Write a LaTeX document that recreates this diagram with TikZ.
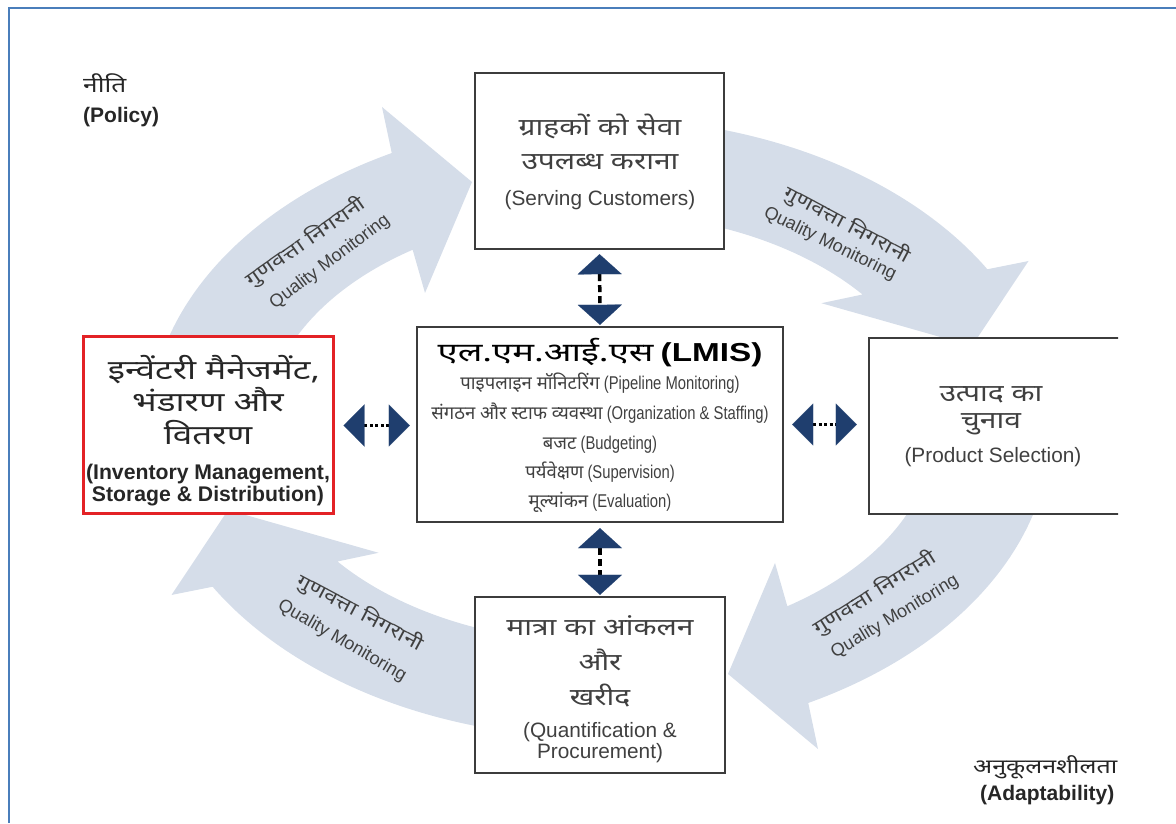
\documentclass[tikz,border=0pt]{standalone}
\usepackage{fontspec}
\setmainfont{Liberation Sans}
\newfontfamily\hifont[Script=Devanagari]{Noto Sans}
\newfontfamily\hiwide[Script=Devanagari,FakeStretch=1.25]{Noto Sans}
\newfontfamily\hiwider[Script=Devanagari,FakeStretch=1.3]{Noto Sans}
\newfontfamily\hititle[Script=Devanagari,FakeStretch=1.4]{Noto Sans}
\newfontfamily\lattitle[FakeStretch=1.28]{Liberation Sans}
\newfontfamily\lacond[FakeStretch=0.8]{Liberation Sans}
\usetikzlibrary{calc,arrows.meta}
\definecolor{flowblue}{HTML}{D5DDE9}
\definecolor{navy}{HTML}{1F3E6E}
\definecolor{boxgray}{HTML}{3C3C3C}
\definecolor{txt}{HTML}{404040}
\definecolor{dark}{HTML}{262626}
\definecolor{frameblue}{HTML}{4A7EBB}
\definecolor{redbox}{HTML}{E32226}
\begin{document}
\begin{tikzpicture}[x=1pt,y=1pt,
  box/.style={draw=boxgray, line width=2.4pt, fill=white, inner sep=0pt},
  hib/.style={font=\hiwide\fontsize{24}{28}\selectfont, text=txt, inner sep=0pt, anchor=base},
  enb/.style={font=\fontsize{20.8}{24}\selectfont, text=txt, inner sep=0pt, anchor=base},
  hil/.style={font=\hiwider\fontsize{27}{30}\selectfont, text=dark, inner sep=0pt, anchor=base},
  enl/.style={font=\fontsize{21.2}{24}\selectfont\bfseries, text=dark, inner sep=0pt, anchor=base},
  cen/.style={font=\fontsize{18.5}{22}\selectfont\lacond, text=txt, inner sep=0pt, anchor=base},
  qh/.style={font=\hiwide\fontsize{19}{22}\selectfont, text=txt, inner sep=0pt},
  qe/.style={font=\fontsize{18}{21}\selectfont, text=txt, inner sep=0pt},
  corner/.style={inner sep=0pt, anchor=base west, text=dark},
  hconn/.style={draw=black, line width=3pt, dash pattern=on 3pt off 2.5pt,
     >={Triangle[width=42pt,length=21pt,color=navy,line width=0.1pt]}, <->},
  vconn/.style={draw=black, line width=3.5pt, dash pattern=on 7pt off 4pt,
     >={Triangle[width=44pt,length=20pt,color=navy,line width=0.1pt]}, <->},
  flow/.style={fill=flowblue}
]
\useasboundingbox (0,0) rectangle (1176,823);
\begin{scope}
\clip (0,0) rectangle (1118,823);
% curved flow arrows
\fill[flow] (155.85,448.83) arc[start angle=170, end angle=117.5, x radius=451pt, y radius=310pt]
  -- (382,716) -- (472,641) -- (425,530) -- (412.67,573.24)
  arc[start angle=124, end angle=160, x radius=335pt, y radius=215pt] -- cycle;
\fill[flow] (1044.15,341.17) arc[start angle=350, end angle=297.5, x radius=451pt, y radius=310pt]
  -- (818,74) -- (728,149) -- (775,260) -- (787.33,216.76)
  arc[start angle=304, end angle=340, x radius=335pt, y radius=215pt] -- cycle;
\fill[flow] (716.73,694.44) arc[start angle=75, end angle=30.8, x radius=451pt, y radius=310pt]
  -- (1028.5,562) -- (972,477) -- (821.4,519.8) -- (862.5,528.5)
  arc[start angle=38.4, end angle=72, x radius=335pt, y radius=215pt] -- cycle;
\fill[flow] (483.27,95.56) arc[start angle=255, end angle=210.8, x radius=451pt, y radius=310pt]
  -- (171.5,228) -- (228,313) -- (378.6,270.2) -- (337.5,261.5)
  arc[start angle=218.4, end angle=252, x radius=335pt, y radius=215pt] -- cycle;
% labels on flow arrows
\node[qh, rotate=35] (q1h) at (306,581) {गुणवत्ता निगरानी};
\node[qe, rotate=37] (q1e) at (330,561) {Quality Monitoring};
\node[qh, rotate=-28] (q2h) at (847,598) {गुणवत्ता निगरानी};
\node[qe, rotate=-26] (q2e) at (830,579) {Quality Monitoring};
\node[qh, rotate=32] (q3h) at (875,230) {गुणवत्ता निगरानी};
\node[qe, rotate=31] (q3e) at (895,206) {Quality Monitoring};
\node[qh, rotate=-28] (q4h) at (360,210) {गुणवत्ता निगरानी};
\node[qe, rotate=-30] (q4e) at (342,182) {Quality Monitoring};
% boxes
\node[box, minimum width=249pt, minimum height=176pt] (srv) at (599.5,662) {};
\node[box, minimum width=366pt, minimum height=195pt] (lmis) at (600,398.5) {};
\node[box, draw=redbox, line width=3pt, minimum width=250pt, minimum height=177pt] (inv) at (208,397.5) {};
\node[box, minimum width=252pt, minimum height=176pt] (prod) at (995,397) {};
\node[box, minimum width=250pt, minimum height=176pt] (qp) at (600,138) {};
% box texts
\node[hib] (srv1) at (600,687) {ग्राहकों को सेवा};
\node[hib] (srv2) at (600,653) {उपलब्ध कराना};
\node[enb] (srv3) at (600,617) {(Serving Customers)};
\node[font=\fontsize{26}{30}\selectfont\bfseries, anchor=base, inner sep=0pt, text=black] (lmis1) at (600,461) {{\hititle एल.एम.आई.एस} {\lattitle (LMIS)}};
\node[cen] (lmis2) at (600,433) {{\hifont पाइपलाइन मॉनिटरिंग} (Pipeline Monitoring)};
\node[cen] (lmis3) at (600,403) {{\hifont संगठन और स्टाफ व्यवस्था} (Organization \& Staffing)};
\node[cen] (lmis4) at (600,373) {{\hifont बजट} (Budgeting)};
\node[cen] (lmis5) at (600,344) {{\hifont पर्यवेक्षण} (Supervision)};
\node[cen] (lmis6) at (600,315) {{\hifont मूल्यांकन} (Evaluation)};
\node[hil] (inv1) at (214,443) {इन्वेंटरी मैनेजमेंट,};
\node[hil] (inv2) at (208,411) {भंडारण और};
\node[hil] (inv3) at (208,378) {वितरण};
\node[enl] (inv4) at (208,343) {(Inventory Management,};
\node[enl] (inv5) at (208,321) {Storage \& Distribution)};
\node[hib] (prod1) at (991,421) {उत्पाद का};
\node[hib] (prod2) at (991,394) {चुनाव};
\node[enb] (prod3) at (993,360) {(Product Selection)};
\node[hib] (qp1) at (600,188) {मात्रा का आंकलन};
\node[hib] (qp2) at (600,153) {और};
\node[hib] (qp3) at (600,118) {खरीद};
\node[enb] (qp4) at (600,86) {(Quantification \&};
\node[enb] (qp5) at (600,65) {Procurement)};
% connectors
\draw[hconn, shorten <=9pt, shorten >=6pt] (inv.east) -- (inv.east -| lmis.west);
\draw[hconn, shorten <=8pt, shorten >=11pt] (lmis.east) -- (lmis.east -| prod.west);
\draw[vconn, shorten <=4pt, shorten >=1pt] (srv.south) -- (lmis.north);
\draw[vconn, shorten <=5pt, shorten >=1pt] (lmis.south) -- (qp.north);
% corner labels
\node[corner, font=\hiwide\fontsize{21}{24}\selectfont] (pol1) at (83,730) {नीति};
\node[corner, font=\fontsize{21}{24}\selectfont\bfseries] (pol2) at (83,700) {(Policy)};
\node[corner, font=\hiwide\fontsize{20}{24}\selectfont] (ad1) at (973,50) {अनुकूलनशीलता};
\node[corner, font=\fontsize{21}{24}\selectfont\bfseries] (ad2) at (980,23) {(Adaptability)};
\end{scope}
% frame
\draw[frameblue, line width=2.5pt] (9,0) -- (9,815) -- (1176,815);
\end{tikzpicture}
\end{document}
